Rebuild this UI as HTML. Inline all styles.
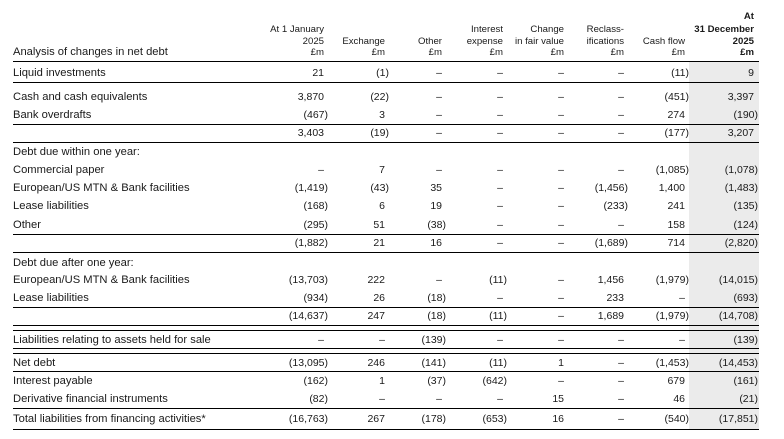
<!DOCTYPE html>
<html><head><meta charset="utf-8"><style>
*{margin:0;padding:0;box-sizing:border-box}
html,body{width:784px;height:439px;background:#fff;overflow:hidden}
body{position:relative;font-family:"Liberation Sans",Arial,sans-serif;color:#1a1a1a}
.g{position:absolute;left:689px;top:61px;width:70px;height:368px;background:#ebebeb}
.ln{position:absolute;left:13px;width:746px;height:1px;background:#000}
.h{position:absolute;font-size:9.6px;line-height:12px;white-space:nowrap;text-align:right}
.hb{font-weight:bold}
.r{position:absolute;left:0;width:784px;height:14px;font-size:10.5px;line-height:14px;white-space:nowrap}
.r span{position:absolute;top:0}
.r .l{left:13px;font-size:11.2px}
.c1{right:460px}.c2{right:399px}.c3{right:342px}.c4{right:281px}.c5{right:220px}.c6{right:160px}.c7{right:99px}.c8{right:30px}
.p{margin-right:-4px}
</style></head><body>
<div class="g"></div>

<div style="position:absolute;left:13px;top:45px;font-size:11.2px;line-height:14px;white-space:nowrap">Analysis of changes in net debt</div>

<div class="h" style="right:460px;top:24px">At 1 January</div>
<div class="h" style="right:460px;top:36px">2025</div>
<div class="h" style="right:460px;top:47px">£m</div>
<div class="h" style="right:399px;top:36px">Exchange</div>
<div class="h" style="right:399px;top:47px">£m</div>
<div class="h" style="right:342px;top:36px">Other</div>
<div class="h" style="right:342px;top:47px">£m</div>
<div class="h" style="right:281px;top:24px">Interest</div>
<div class="h" style="right:281px;top:36px">expense</div>
<div class="h" style="right:281px;top:47px">£m</div>
<div class="h" style="right:220px;top:24px">Change</div>
<div class="h" style="right:220px;top:36px">in fair value</div>
<div class="h" style="right:220px;top:47px">£m</div>
<div class="h" style="right:160px;top:24px">Reclass-</div>
<div class="h" style="right:160px;top:36px">ifications</div>
<div class="h" style="right:160px;top:47px">£m</div>
<div class="h" style="right:99px;top:36px">Cash flow</div>
<div class="h" style="right:99px;top:47px">£m</div>
<div class="h hb" style="right:30px;top:11px">At</div>
<div class="h hb" style="right:30px;top:24px">31 December</div>
<div class="h hb" style="right:30px;top:36px">2025</div>
<div class="h hb" style="right:30px;top:47px">£m</div>

<div class="ln" style="top:61px"></div>
<div class="ln" style="top:82px"></div>
<div class="ln" style="top:124px"></div>
<div class="ln" style="top:142px"></div>
<div class="ln" style="top:234px"></div>
<div class="ln" style="top:252px"></div>
<div class="ln" style="top:307px"></div>
<div class="ln" style="top:325px"></div>
<div class="ln" style="top:330px"></div>
<div class="ln" style="top:348px"></div>
<div class="ln" style="top:353px"></div>
<div class="ln" style="top:371px"></div>
<div class="ln" style="top:408px"></div>
<div class="ln" style="top:429px"></div>

<div class="r" style="top:66px"><span class="l">Liquid investments</span><span class="c1">21</span><span class="c2 p">(1)</span><span class="c3">–</span><span class="c4">–</span><span class="c5">–</span><span class="c6">–</span><span class="c7 p">(11)</span><span class="c8">9</span></div>

<div class="r" style="top:90px"><span class="l">Cash and cash equivalents</span><span class="c1">3,870</span><span class="c2 p">(22)</span><span class="c3">–</span><span class="c4">–</span><span class="c5">–</span><span class="c6">–</span><span class="c7 p">(451)</span><span class="c8">3,397</span></div>

<div class="r" style="top:108px"><span class="l">Bank overdrafts</span><span class="c1 p">(467)</span><span class="c2">3</span><span class="c3">–</span><span class="c4">–</span><span class="c5">–</span><span class="c6">–</span><span class="c7">274</span><span class="c8 p">(190)</span></div>

<div class="r" style="top:126px"><span class="c1">3,403</span><span class="c2 p">(19)</span><span class="c3">–</span><span class="c4">–</span><span class="c5">–</span><span class="c6">–</span><span class="c7 p">(177)</span><span class="c8">3,207</span></div>

<div class="r" style="top:145px"><span class="l">Debt due within one year:</span></div>

<div class="r" style="top:163px"><span class="l">Commercial paper</span><span class="c1">–</span><span class="c2">7</span><span class="c3">–</span><span class="c4">–</span><span class="c5">–</span><span class="c6">–</span><span class="c7 p">(1,085)</span><span class="c8 p">(1,078)</span></div>

<div class="r" style="top:181px"><span class="l">European/US MTN &amp; Bank facilities</span><span class="c1 p">(1,419)</span><span class="c2 p">(43)</span><span class="c3">35</span><span class="c4">–</span><span class="c5">–</span><span class="c6 p">(1,456)</span><span class="c7">1,400</span><span class="c8 p">(1,483)</span></div>

<div class="r" style="top:199px"><span class="l">Lease liabilities</span><span class="c1 p">(168)</span><span class="c2">6</span><span class="c3">19</span><span class="c4">–</span><span class="c5">–</span><span class="c6 p">(233)</span><span class="c7">241</span><span class="c8 p">(135)</span></div>

<div class="r" style="top:218px"><span class="l">Other</span><span class="c1 p">(295)</span><span class="c2">51</span><span class="c3 p">(38)</span><span class="c4">–</span><span class="c5">–</span><span class="c6">–</span><span class="c7">158</span><span class="c8 p">(124)</span></div>

<div class="r" style="top:236px"><span class="c1 p">(1,882)</span><span class="c2">21</span><span class="c3">16</span><span class="c4">–</span><span class="c5">–</span><span class="c6 p">(1,689)</span><span class="c7">714</span><span class="c8 p">(2,820)</span></div>

<div class="r" style="top:256px"><span class="l">Debt due after one year:</span></div>

<div class="r" style="top:273px"><span class="l">European/US MTN &amp; Bank facilities</span><span class="c1 p">(13,703)</span><span class="c2">222</span><span class="c3">–</span><span class="c4 p">(11)</span><span class="c5">–</span><span class="c6">1,456</span><span class="c7 p">(1,979)</span><span class="c8 p">(14,015)</span></div>

<div class="r" style="top:291px"><span class="l">Lease liabilities</span><span class="c1 p">(934)</span><span class="c2">26</span><span class="c3 p">(18)</span><span class="c4">–</span><span class="c5">–</span><span class="c6">233</span><span class="c7">–</span><span class="c8 p">(693)</span></div>

<div class="r" style="top:309px"><span class="c1 p">(14,637)</span><span class="c2">247</span><span class="c3 p">(18)</span><span class="c4 p">(11)</span><span class="c5">–</span><span class="c6">1,689</span><span class="c7 p">(1,979)</span><span class="c8 p">(14,708)</span></div>

<div class="r" style="top:333px"><span class="l">Liabilities relating to assets held for sale</span><span class="c1">–</span><span class="c2">–</span><span class="c3 p">(139)</span><span class="c4">–</span><span class="c5">–</span><span class="c6">–</span><span class="c7">–</span><span class="c8 p">(139)</span></div>

<div class="r" style="top:356px"><span class="l">Net debt</span><span class="c1 p">(13,095)</span><span class="c2">246</span><span class="c3 p">(141)</span><span class="c4 p">(11)</span><span class="c5">1</span><span class="c6">–</span><span class="c7 p">(1,453)</span><span class="c8 p">(14,453)</span></div>

<div class="r" style="top:374px"><span class="l">Interest payable</span><span class="c1 p">(162)</span><span class="c2">1</span><span class="c3 p">(37)</span><span class="c4 p">(642)</span><span class="c5">–</span><span class="c6">–</span><span class="c7">679</span><span class="c8 p">(161)</span></div>

<div class="r" style="top:392px"><span class="l">Derivative financial instruments</span><span class="c1 p">(82)</span><span class="c2">–</span><span class="c3">–</span><span class="c4">–</span><span class="c5">15</span><span class="c6">–</span><span class="c7">46</span><span class="c8 p">(21)</span></div>

<div class="r" style="top:412px"><span class="l">Total liabilities from financing activities*</span><span class="c1 p">(16,763)</span><span class="c2">267</span><span class="c3 p">(178)</span><span class="c4 p">(653)</span><span class="c5">16</span><span class="c6">–</span><span class="c7 p">(540)</span><span class="c8 p">(17,851)</span></div>

</body></html>
